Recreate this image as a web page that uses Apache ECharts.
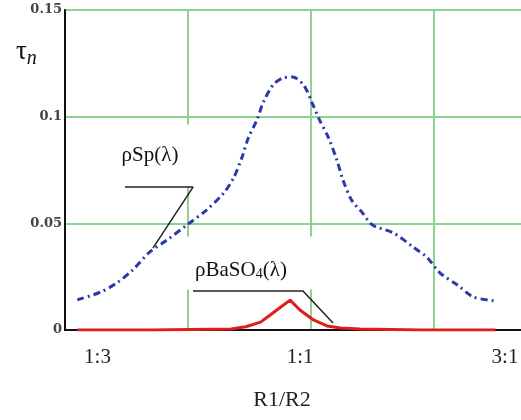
<!DOCTYPE html>
<html>
<head>
<meta charset="utf-8">
<script src="https://cdn.jsdelivr.net/npm/echarts@6/dist/echarts.min.js"></script>
<style>
html, body { margin: 0; padding: 0; background: #fff; }
#chart { width: 521px; height: 420px; }
</style>
</head>
<body>
<div id="chart"></div>
<script>
// x in grid cells (one green cell = 1 unit), y = tau_n
const spX = [0.10, 0.29, 0.42, 0.55, 0.69, 0.83, 0.99, 1.15, 1.29, 1.37, 1.44, 1.49, 1.56, 1.61, 1.69, 1.77, 1.85,
             1.94, 2.01, 2.07, 2.14, 2.21, 2.26, 2.33, 2.42, 2.50, 2.67, 2.83, 2.94, 3.05, 3.19, 3.32, 3.50];
const spY = [0.0141, 0.0178, 0.0220, 0.0281, 0.0366, 0.0422, 0.0492, 0.0562, 0.0642, 0.0712, 0.0811, 0.0900, 0.0984, 0.1064, 0.1148, 0.1181, 0.1186,
             0.1148, 0.1064, 0.0984, 0.0904, 0.0797, 0.0703, 0.0609, 0.0548, 0.0492, 0.0455, 0.0389, 0.0342, 0.0267, 0.0211, 0.0155, 0.0136];

const baX = [0.10, 0.70, 1.35, 1.47, 1.59, 1.69, 1.76, 1.83, 1.91, 2.02, 2.13, 2.24, 2.40, 2.90, 3.50];
const baY = [0, 0, 0.0005, 0.0015, 0.0037, 0.008, 0.011, 0.014, 0.0094, 0.0047, 0.0019, 0.0009, 0.0005, 0, 0];

const xTickPos = [0.264, 1.911, 3.577];
const xTickText = ['1:3', '1:1', '3:1'];

// leader lines of the two callouts
const spLeader = [[0.488, 0.067], [1.041, 0.067], [0.715, 0.0384]];
const baLeader = [[1.041, 0.0183], [1.935, 0.0183], [2.179, 0.0033]];

const zip = (a, b) => a.map((v, i) => [v, b[i]]);
const serif = '"Liberation Serif", "Times New Roman", serif';
const green = '#8fd18f';

const myChart = echarts.init(document.getElementById('chart'));

const option = {
    animation: false,
    title: {
        text: '{t|τ}{n|n}',
        left: 11,
        top: 30,
        textStyle: {
            rich: {
                t: { fontFamily: serif, fontSize: 27, fontWeight: 'normal', color: '#111' },
                n: { fontFamily: serif, fontSize: 20, fontStyle: 'italic', fontWeight: 'normal', color: '#111', padding: [14, 0, 0, 0] }
            }
        }
    },
    grid: {
        left: 65, top: 10, bottom: 90, width: 492,
        outerBoundsMode: 'none',
        show: true, borderColor: '#111', borderWidth: 2
    },
    xAxis: {
        type: 'value', min: 0, max: 4, interval: 1,
        name: 'R1/R2', nameLocation: 'middle', nameGap: 59,
        nameTextStyle: { fontFamily: serif, fontSize: 22, color: '#222', padding: [0, 58, 0, 0] },
        axisLine: { show: true, lineStyle: { color: '#111', width: 2 } },
        axisTick: { show: false },
        splitLine: { show: true, lineStyle: { color: green, width: 2 } },
        axisLabel: {
            customValues: xTickPos,
            margin: 17,
            fontFamily: serif, fontSize: 21, color: '#222',
            formatter: v => xTickText[xTickPos.indexOf(v)] || ''
        }
    },
    yAxis: {
        type: 'value', min: 0, max: 0.15, interval: 0.05,
        axisLine: { show: true, lineStyle: { color: '#111', width: 2 } },
        axisTick: { show: false },
        splitLine: { show: true, lineStyle: { color: green, width: 2 } },
        axisLabel: { margin: 3, fontFamily: '"DejaVu Serif", serif', fontWeight: 'bold', fontSize: 13, color: '#444' }
    },
    series: [
        {
            // white callout boxes
            type: 'scatter', z: 1, symbolSize: 0, silent: true,
            itemStyle: { opacity: 1 },
            data: [
                {
                    value: [0.691, 0.0818],
                    label: {
                        show: true, position: 'inside', formatter: 'ρSp(λ)',
                        fontFamily: serif, fontSize: 21, color: '#111',
                        backgroundColor: '#fff', padding: [30, 20, 11, 20]
                    }
                },
                {
                    value: [1.512, 0.0314],
                    label: {
                        show: true, position: 'inside', formatter: '{a|ρBaSO}{s|4}{a|(λ)}',
                        backgroundColor: '#fff', padding: [22, 32, 8, 12],
                        rich: {
                            a: { fontFamily: serif, fontSize: 21, color: '#111' },
                            s: { fontFamily: serif, fontSize: 14, color: '#111', padding: [9, 0, 0, 0] }
                        }
                    }
                }
            ]
        },
        {
            type: 'line', data: spLeader, symbol: 'none', silent: true,
            lineStyle: { color: '#222', width: 1.5 }
        },
        {
            type: 'line', data: baLeader, symbol: 'none', silent: true,
            lineStyle: { color: '#222', width: 1.5 }
        },
        {
            name: 'ρSp(λ)', type: 'line', data: zip(spX, spY), symbol: 'none', smooth: 0.3,
            lineStyle: { color: '#2b3aa8', width: 3, type: [7, 4, 2, 4] }
        },
        {
            name: 'ρBaSO4(λ)', type: 'line', data: zip(baX, baY), symbol: 'none',
            lineStyle: { color: '#e01c1c', width: 3 }
        }
    ]
};
myChart.setOption(option);
</script>
</body>
</html>
